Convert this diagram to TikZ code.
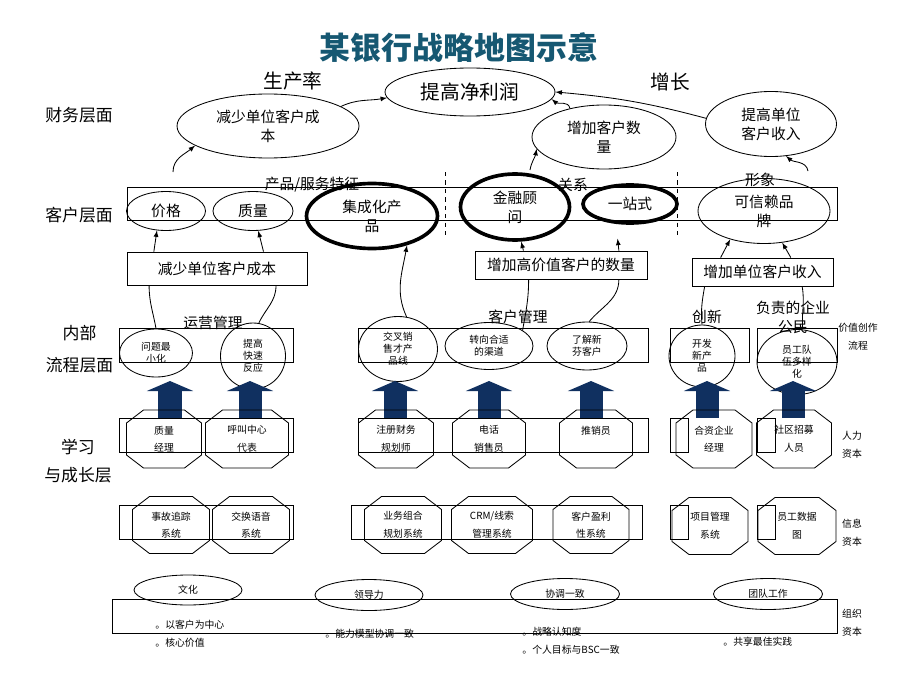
\documentclass[tikz,border=0pt]{standalone}
\usepackage{fontspec}
\setmainfont{Noto Sans CJK SC}
\usetikzlibrary{shapes.geometric,calc}
\usetikzlibrary{arrows.meta}
\tikzset{>=latex}
\definecolor{titleblue}{RGB}{22,88,114}
\definecolor{arrowblue}{RGB}{16,48,96}
\tikzset{
  sz/.style 2 args={minimum width=#1*0.025cm, minimum height=#2*0.025cm},
  goal/.style={draw, ellipse, inner sep=0pt, align=center, font=\fontsize{10.5}{13.5}\selectfont},
  keygoal/.style={goal, line width=2.6pt},
  proc/.style={draw, ellipse, inner sep=0pt, align=center, font=\fontsize{7}{8.5}\selectfont},
  target/.style={draw, rectangle, inner sep=0pt, font=\fontsize{10.5}{13.5}\selectfont},
  theme/.style={align=center, inner sep=0pt, font=\fontsize{10.5}{13.5}\selectfont},
  layername/.style={align=center, font=\fontsize{12}{16}\selectfont},
  res/.style={inner sep=0pt, align=center, font=\fontsize{7}{12.5}\selectfont},
  side/.style={inner sep=0pt, align=center, font=\fontsize{7}{13}\selectfont},
  orgval/.style={draw, ellipse, inner sep=0pt, font=\fontsize{7}{8}\selectfont},
  bullet/.style={anchor=west, inner sep=0pt, font=\fontsize{7}{8}\selectfont},
  bigup/.style={line width=0.575cm, arrowblue, -{Triangle[width=1.15cm,length=0.25cm]}}
}

\begin{document}
\begin{tikzpicture}[x=0.025cm,y=0.025cm,line width=0.6pt]
                \useasboundingbox (0,0) rectangle (920,-690);

                % Title
                \node[font=\fontsize{22}{26}\selectfont\bfseries, text=titleblue] (title) at (459,-48) {某银行战略地图示意};

                % Financial layer
                \node[layername] (cwcm) at (79,-115) {财务层面};
                \node[font=\fontsize{14}{16}\selectfont] (scl) at (293,-81) {生产率};
                \node[font=\fontsize{14}{16}\selectfont] (zz) at (670,-82) {增长};
                \node[goal, sz={170}{48}, font=\fontsize{14}{16}\selectfont] (tgjl) at (470,-92) {提高净利润};
                \node[goal, sz={182}{64}] (jscb) at (268,-126) {减少单位客户成\\本};
                \node[goal, sz={144}{64}] (zjkh) at (604,-137) {增加客户数\\量};
                \node[goal, sz={131}{65}] (tgdw) at (771,-124) {提高单位\\客户收入};

                \draw[->] (jscb.15) to[out=25,in=190] (tgjl.184);
                \draw[->] (zjkh.140) to[out=100,in=-40] (tgjl.-5);
                \draw[->] (tgdw.175) to[out=165,in=-5] (tgjl.east);

                \coordinate (kc1) at (173,-172);
                \coordinate (kc2) at (530,-170);
                \coordinate (kc3) at (808,-171);
                \draw[->] (kc1) to[out=90,in=220] (jscb.195);
                \draw[->] (kc2) to[out=80,in=-100] (zjkh.190);
                \draw[->] (kc3) to[out=100,in=-40] (tgdw.-65);

                % Customer layer
                \node[layername] (khcm) at (79,-215) {客户层面};
                \draw (127,-187) rectangle (837,-220);
                \draw[dashed] (445,-172) -- (445,-237);
                \draw[dashed] (677,-172) -- (677,-237);
                \node[theme] (cpfw) at (312,-185) {产品/服务特征};
                \node[theme] (gx) at (573,-185) {关系};
                \node[theme] (xx) at (760,-180) {形象};

                \node[goal, sz={79}{39}] (jg) at (166,-211) {价格};
                \node[goal, sz={80}{39}] (zl) at (253,-211) {质量};
                \node[keygoal, sz={131}{65}] (jch) at (372,-216) {集成化产\\品};
                \node[keygoal, sz={109}{66}] (jr) at (515,-207) {金融顾\\问};
                \node[keygoal, sz={94}{38}] (yzs) at (630,-204) {一站式};
                \node[goal, sz={132}{65}] (kxl) at (764,-211) {可信赖品\\牌};

                \node[target, sz={180}{33}] (jsbox) at (217,-268.5) {减少单位客户成本};
                \node[target, sz={172}{28}] (zgbox) at (561,-265) {增加高价值客户的数量};
                \node[target, sz={141}{28}] (zdbox) at (762.5,-272) {增加单位客户收入};

                \draw[->] (jsbox.165) -- (jg.-115);
                \draw[->] (jsbox.20) -- (zl.-75);
                \draw[->] (zgbox.159) -- (jr.-80);
                \draw[->, shorten >=0.37cm] (zgbox.14) -- (yzs.-125);
                \draw[->] (zdbox.161) -- (kxl.-140);
                \draw[->] (zdbox.27) -- (kxl.-60);

                % Internal process layer
                \node[layername, font=\fontsize{12}{22.7}\selectfont] (nblc) at (79.5,-349) {内部\\流程层面};
                \draw (119,-328) rectangle (293,-362);
                \draw (358,-328) rectangle (648,-362);
                \draw (670,-328) rectangle (749,-362);
                \draw (757,-328) rectangle (837,-362);
                \node[theme] (yygl) at (213,-323) {运营管理};
                \node[theme] (khgl) at (518,-317) {客户管理};
                \node[theme] (cx) at (707,-317) {创新};
                \node[theme] (fzgm) at (793,-317) {负责的企业\\公民};
                \node[side] (jzcz) at (858,-336.5) {价值创作\\流程};

                \node[proc, sz={73}{48}] (wt) at (156,-353) {问题最\\小化};
                \node[proc, sz={65}{66}] (tk) at (253,-356) {提高\\快速\\反应};
                \node[proc, sz={79}{65}] (jc) at (398,-349) {交叉销\\售才产\\品线};
                \node[proc, sz={88}{47}] (zx) at (489,-346) {转向合适\\的渠道};
                \node[proc, sz={80}{48}] (lj) at (587,-346) {了解新\\芬客户};
                \node[proc, sz={66}{62}] (kf) at (702,-356) {开发\\新产\\品};
                \node[proc, sz={80}{65}] (yg) at (797,-362) {员工队\\伍多样\\化};

                \draw (wt.north) to[out=100,in=-90] (jsbox.-166);
                \draw (tk.80) to[out=65,in=-90] (jsbox.-16);
                \draw[->] (jc.75) to[out=115,in=-100] (jch.-40);
                \draw (zx.25) to[out=80,in=-90] (zgbox.-156);
                \draw (lj.85) to[out=50,in=-90] (zgbox.-14);
                \draw (kf.north) to[out=95,in=-100] (zdbox.-166);
                \draw (yg.80) to[out=95,in=-80] (zdbox.-20);

                % Learning and growth layer
                \node[layername, font=\fontsize{12}{20}\selectfont] (xxcz) at (78,-461) {学习\\与成长层};

                % human capital
                \node[res] (hr1) at (164,-439) {质量\\经理};
                \node[res] (hr2) at (247,-439) {呼叫中心\\代表};
                \node[res] (hr3) at (396,-439) {注册财务\\规划师};
                \node[res] (hr4) at (489,-439) {电话\\销售员};
                \node[res] (hr5) at (596,-439) {推销员\\~};
                \node[res] (hr6) at (714,-439) {合资企业\\经理};
                \node[res] (hr7) at (794,-439) {社区招募\\人员};
                \node[side] (rlzb) at (852,-445) {人力\\资本};

                \foreach \n/\dx in {hr1/6, hr2/3, hr3/-1, hr4/0, hr5/-5, hr6/-7, hr7/-1}
                  \draw[bigup] ($(\n)+(\dx,21)$) -- ++(0,37);

                \draw (119,-418) rectangle (293,-452);
                \draw (358,-418) rectangle (648,-452);
                \draw (670,-418) rectangle (688,-452);
                \draw (757,-418) rectangle (775,-452);
                \foreach \n/\w in {hr1/37.5, hr2/41.5, hr3/37.5, hr4/36.5, hr5/36.5, hr6/38, hr7/37.5}
                  \draw (\n) ++(-\w,-16) -- ++(0,32) -- ++(17,13) -- ++({2*\w-34},0) -- ++(17,-13)
                    -- ++(0,-32) -- ++(-17,-13) -- ++({34-2*\w},0) -- cycle;

                % information capital
                \node[res] (is1) at (171,-525) {事故追踪\\系统};
                \node[res] (is2) at (251,-525) {交换语音\\系统};
                \node[res] (is3) at (403,-525) {业务组合\\规划系统};
                \node[res] (is4) at (492,-525) {CRM/线索\\管理系统};
                \node[res] (is5) at (591,-525) {客户盈利\\性系统};
                \node[res] (is6) at (710,-526) {项目管理\\系统};
                \node[res] (is7) at (797,-526) {员工数据\\图};
                \node[side] (xxzb) at (852,-532.5) {信息\\资本};

                \draw (119,-505) rectangle (293,-539);
                \draw (351,-505) rectangle (642,-539);
                \draw (670,-505) rectangle (688,-539);
                \draw (757,-505) rectangle (775,-539);
                \foreach \n/\w in {is1/38.5, is2/38.5, is3/38.5, is4/40.5, is5/38, is6/38, is7/39}
                  \draw (\n) ++(-\w,-15.5) -- ++(0,31) -- ++(17,13) -- ++({2*\w-34},0) -- ++(17,-13)
                    -- ++(0,-31) -- ++(-17,-13) -- ++({34-2*\w},0) -- cycle;

                % organization capital
                \draw (112,-599) rectangle (837,-633);
                \node[orgval, sz={108}{30}] (wh) at (188,-590) {文化};
                \node[orgval, sz={108}{31}] (ldl) at (369,-595) {领导力};
                \node[orgval, sz={109}{31}] (xtyz) at (565,-594) {协调一致};
                \node[orgval, sz={109}{31}] (tdgz) at (768,-594) {团队工作};
                \node[bullet] (b1) at (155,-625) {。以客户为中心};
                \node[bullet] (b2) at (155,-643) {。核心价值};
                \node[bullet] (b3) at (325,-634) {。能力模型协调一致};
                \node[bullet] (b4) at (522,-632) {。战略认知度};
                \node[bullet] (b5) at (522,-650) {。个人目标与BSC一致};
                \node[bullet] (b6) at (723,-642) {。共享最佳实践};
                \node[side] (zzzb) at (852,-622.5) {组织\\资本};
\end{tikzpicture}
\end{document}
